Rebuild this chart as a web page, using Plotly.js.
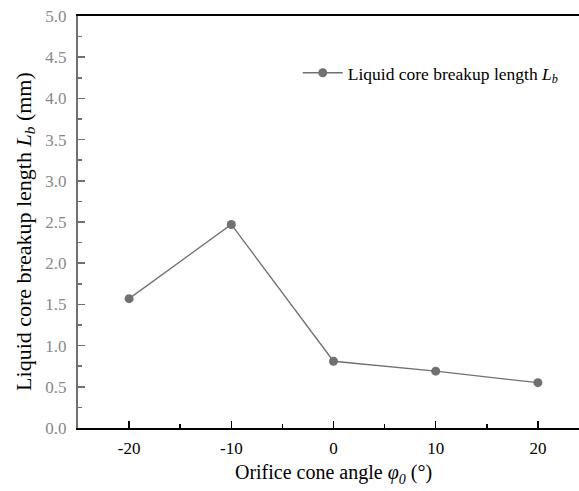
<!DOCTYPE html>
<html><head><meta charset="utf-8">
<script src="https://cdn.plot.ly/plotly-3.0.1.min.js"></script>
<style>html,body{margin:0;padding:0;overflow:hidden;background:#fff;}#plot{width:589px;height:491px;}</style>
</head><body><div id="plot"></div>
<script>
const angles = [-20, -10, 0, 10, 20];
const breakupLength = [1.57, 2.47, 0.81, 0.69, 0.55];
const seriesName = 'Liquid core breakup length <i>L</i><sub><i>b</i></sub>';
const yTitle = 'Liquid core breakup length <i>L</i><sub><i>b</i></sub> (mm)';
const xTitle = 'Orifice cone angle <i>φ</i><sub><i>0</i></sub> (°)';
const serif = 'Liberation Serif, Times New Roman, serif';

const trace = {
  x: angles, y: breakupLength, type: 'scatter', mode: 'lines+markers',
  name: seriesName,
  line: {color: '#707070', width: 1.3},
  marker: {color: '#707070', size: 9}
};

const layout = {
  width: 589, height: 491,
  margin: {l: 78, r: 0, t: 16, b: 63},
  paper_bgcolor: '#fff', plot_bgcolor: '#fff',
  showlegend: true,
  legend: {x: 0.43, y: 0.862, xanchor: 'left', yanchor: 'middle', bgcolor: 'rgba(0,0,0,0)',
           itemwidth: 40,
           font: {family: serif, size: 17.5, color: '#000'}},
  xaxis: {
    range: [-25, 25], tickvals: angles, ticktext: ['-20','-10','0','10','20'],
    ticks: 'inside', ticklen: 7, tickwidth: 1.5, tickcolor: '#000',
    minor: {tickvals: [-15, -5, 5, 15], ticks: 'inside', ticklen: 4, tickwidth: 1.5, tickcolor: '#000'},
    showline: true, linecolor: '#000', linewidth: 2, mirror: true,
    showgrid: false, zeroline: false,
    ticklabelstandoff: 4,
    tickfont: {family: serif, size: 17, color: '#000'},
    title: {text: xTitle, font: {family: serif, size: 20, color: '#000'}, standoff: 8}
  },
  yaxis: {
    range: [0, 5], dtick: 0.5, tick0: 0, tickformat: '.1f',
    ticks: 'inside', ticklen: 7, tickwidth: 1.5, tickcolor: '#707070',
    minor: {dtick: 0.25, ticks: 'inside', ticklen: 4, tickwidth: 1.5, tickcolor: '#707070'},
    showline: true, linecolor: '#707070', linewidth: 2,
    showgrid: false, zeroline: false,
    ticklabelstandoff: 6,
    tickfont: {family: serif, size: 17, color: '#888'}
  },
  annotations: [{
    text: yTitle, textangle: -90, showarrow: false,
    xref: 'paper', yref: 'paper', x: -0.104, y: 0.478, xanchor: 'center', yanchor: 'middle',
    font: {family: serif, size: 22, color: '#000'}
  }]
};
Plotly.newPlot('plot', [trace], layout, {displayModeBar: false, staticPlot: true});
</script></body></html>
